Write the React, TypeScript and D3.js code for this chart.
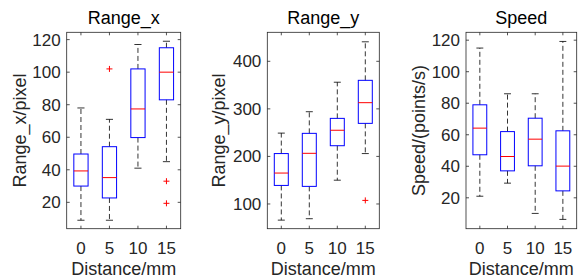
import * as d3 from "d3"

const categories = ["0", "5", "10", "15"]

// box stats per category: [lowWhisker, q1, median, q3, highWhisker]
const rangeXStats = [
  [9, 30, 39.3, 49.7, 78],
  [9, 22.7, 35.2, 54.2, 71],
  [41, 59.8, 77.4, 102, 117],
  [45, 83, 100, 115, 119],
]
const rangeXOutliers = [[], [102], [], [33, 19.4]]

const rangeYStats = [
  [66, 139, 165, 206, 249],
  [69, 137, 206.5, 248.5, 294],
  [150, 222.5, 255, 280, 356],
  [206, 269.5, 313, 360, 441],
]
const rangeYOutliers = [[], [], [], [107.5]]

const speedStats = [
  [21, 47.3, 64.2, 79, 115],
  [29.3, 37.1, 46.2, 62, 86],
  [10.1, 40.3, 57.2, 70.5, 86],
  [6.3, 24.4, 40.1, 62.5, 119.2],
]
const speedOutliers = [[], [], [], []]

const panels = [
  {
    title: "Range_x",
    ylabel: "Range_x/pixel",
    stats: rangeXStats,
    outliers: rangeXOutliers,
    yDomain: [3.8, 124.5],
    yTicks: [20, 40, 60, 80, 100, 120],
    left: 66.7,
    right: 180.7,
    labelX: 26,
  },
  {
    title: "Range_y",
    ylabel: "Range_y/pixel",
    stats: rangeYStats,
    outliers: rangeYOutliers,
    yDomain: [48, 461],
    yTicks: [100, 200, 300, 400],
    left: 267.3,
    right: 379.3,
    labelX: 225,
  },
  {
    title: "Speed",
    ylabel: "Speed/(points/s)",
    stats: speedStats,
    outliers: speedOutliers,
    yDomain: [0.4, 125],
    yTicks: [20, 40, 60, 80, 100, 120],
    left: 466,
    right: 576.7,
    labelX: 425,
  },
]

const TOP = 32.3
const BOTTOM = 228.7
const AX = "#262626"
const FONT = "'Liberation Sans', Arial, Helvetica, sans-serif"

const Panel = ({ p }: { p: (typeof panels)[number] }) => {
  const x = d3
    .scaleLinear()
    .domain([0.5, categories.length + 0.5])
    .range([p.left, p.right])
  const y = d3.scaleLinear().domain(p.yDomain).range([BOTTOM, TOP])
  const unit = x(2) - x(1)
  const boxW = unit * 0.5
  const capW = boxW * 0.5
  const tick = 3
  const cx = (p.left + p.right) / 2

  return (
    <g>
      {/* boxes */}
      {p.stats.map((s, i) => {
        const c = x(i + 1)
        const [lo, q1, med, q3, hi] = s
        return (
          <g key={i}>
            <line x1={c} x2={c} y1={y(q3)} y2={y(hi)} stroke="black" strokeDasharray="5,3" strokeWidth={0.8} />
            <line x1={c} x2={c} y1={y(q1)} y2={y(lo)} stroke="black" strokeDasharray="5,3" strokeWidth={0.8} />
            <line x1={c - capW / 2} x2={c + capW / 2} y1={y(hi)} y2={y(hi)} stroke="black" strokeWidth={0.8} />
            <line x1={c - capW / 2} x2={c + capW / 2} y1={y(lo)} y2={y(lo)} stroke="black" strokeWidth={0.8} />
            <rect x={c - boxW / 2} y={y(q3)} width={boxW} height={y(q1) - y(q3)} fill="none" stroke="#0000ff" strokeWidth={1} />
            <line x1={c - boxW / 2} x2={c + boxW / 2} y1={y(med)} y2={y(med)} stroke="#ff0000" strokeWidth={1} />
            {p.outliers[i].map((o, j) => (
              <g key={j} stroke="#ff0000" strokeWidth={1}>
                <line x1={c - 3} x2={c + 3} y1={y(o)} y2={y(o)} />
                <line x1={c} x2={c} y1={y(o) - 3} y2={y(o) + 3} />
              </g>
            ))}
          </g>
        )
      })}

      {/* axes frame */}
      <rect x={p.left} y={TOP} width={p.right - p.left} height={BOTTOM - TOP} fill="none" stroke={AX} strokeWidth={0.8} />
      {categories.map((c, i) => (
        <g key={c}>
          <line x1={x(i + 1)} x2={x(i + 1)} y1={BOTTOM} y2={BOTTOM - tick} stroke={AX} strokeWidth={0.8} />
          <line x1={x(i + 1)} x2={x(i + 1)} y1={TOP} y2={TOP + tick} stroke={AX} strokeWidth={0.8} />
          <text x={x(i + 1)} y={253.5} textAnchor="middle" fontSize={17} fill={AX}>
            {c}
          </text>
        </g>
      ))}
      {p.yTicks.map((t) => (
        <g key={t}>
          <line x1={p.left} x2={p.left + tick} y1={y(t)} y2={y(t)} stroke={AX} strokeWidth={0.8} />
          <line x1={p.right} x2={p.right - tick} y1={y(t)} y2={y(t)} stroke={AX} strokeWidth={0.8} />
          <text x={p.left - 6} y={y(t) + 6} textAnchor="end" fontSize={17} fill={AX}>
            {t}
          </text>
        </g>
      ))}

      <text x={cx} y={24} textAnchor="middle" fontSize={18} fill="black">
        {p.title}
      </text>
      <text x={cx} y={274.5} textAnchor="middle" fontSize={18} fill={AX}>
        Distance/mm
      </text>
      <text
        transform={`translate(${p.labelX}, ${(TOP + BOTTOM) / 2}) rotate(-90)`}
        textAnchor="middle"
        fontSize={18}
        fill={AX}
      >
        {p.ylabel}
      </text>
    </g>
  )
}

export default function App() {
  return (
    <svg
      width={579}
      height={277}
      style={{ position: "absolute", left: 0, top: 0, background: "white", fontFamily: FONT }}
    >
      {panels.map((p) => (
        <Panel key={p.title} p={p} />
      ))}
    </svg>
  )
}
